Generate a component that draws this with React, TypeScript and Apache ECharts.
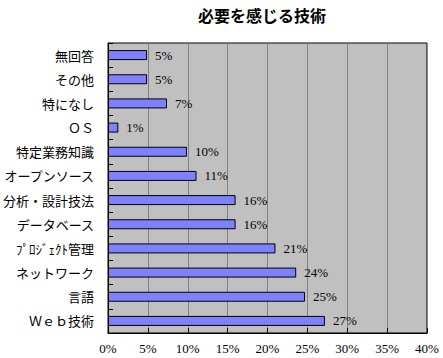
import React, { useEffect, useRef } from "react";
import * as echarts from "echarts";

const categories = [
  "無回答",
  "その他",
  "特になし",
  "ＯＳ",
  "特定業務知識",
  "オープンソース",
  "分析・設計技法",
  "データベース",
  "ﾌﾟﾛｼﾞｪｸﾄ管理",
  "ネットワーク",
  "言語",
  "Ｗｅｂ技術",
];
const values = [4.9, 4.9, 7.4, 1.3, 9.9, 11.1, 16.0, 16.0, 21.0, 23.6, 24.7, 27.2];
const xTicks = [0, 5, 10, 15, 20, 25, 30, 35, 40];

export default function App() {
  const ref = useRef<HTMLDivElement>(null);
  useEffect(() => {
    if (!ref.current) return;
    const chart = echarts.init(ref.current, null, { renderer: "svg" });
    chart.setOption({
      animation: false,
      backgroundColor: "#ffffff",
      title: {
        text: "必要を感じる技術",
        left: 257,
        textAlign: "center",
        top: 2,
        textStyle: {
          fontFamily: "Noto Sans CJK JP",
          fontSize: 16,
          fontWeight: "bold",
          color: "#000",
        },
      },
      grid: {
        left: 107,
        right: 16,
        top: 43,
        bottom: 25,
        show: true,
        backgroundColor: "#c0c0c0",
        borderColor: "#000",
        borderWidth: 1,
      },
      xAxis: {
        type: "value",
        min: xTicks[0],
        max: xTicks[xTicks.length - 1],
        interval: 5,
        axisLine: { show: true, lineStyle: { color: "#000" } },
        axisTick: { show: true, inside: true, length: 5, lineStyle: { color: "#000" } },
        splitLine: { show: true, lineStyle: { color: "#808080", width: 1 } },
        axisLabel: {
          margin: 9,
          formatter: (v: number) => v + "%",
          fontFamily: "Liberation Serif",
          fontSize: 13,
          color: "#000",
        },
      },
      yAxis: {
        type: "category",
        inverse: true,
        data: categories,
        axisLine: { show: true, lineStyle: { color: "#000" } },
        axisTick: { show: true, inside: true, length: 5, lineStyle: { color: "#000" } },
        axisLabel: {
          margin: 14,
          fontFamily: "Noto Sans CJK JP",
          fontSize: 13,
          color: "#000",
        },
      },
      series: [
        {
          type: "bar",
          data: values,
          barWidth: 10,
          itemStyle: { color: "#8080ff", borderColor: "#000", borderWidth: 1 },
          label: {
            show: true,
            position: "right",
            distance: 8,
            formatter: (p: any) => Math.round(p.value) + "%",
            fontFamily: "Liberation Serif",
            fontSize: 13,
            color: "#000",
          },
        },
      ],
    });
    return () => chart.dispose();
  }, []);
  return (
    <div
      ref={ref}
      style={{ position: "fixed", left: 0, top: 0, width: 443, height: 358 }}
    />
  );
}
